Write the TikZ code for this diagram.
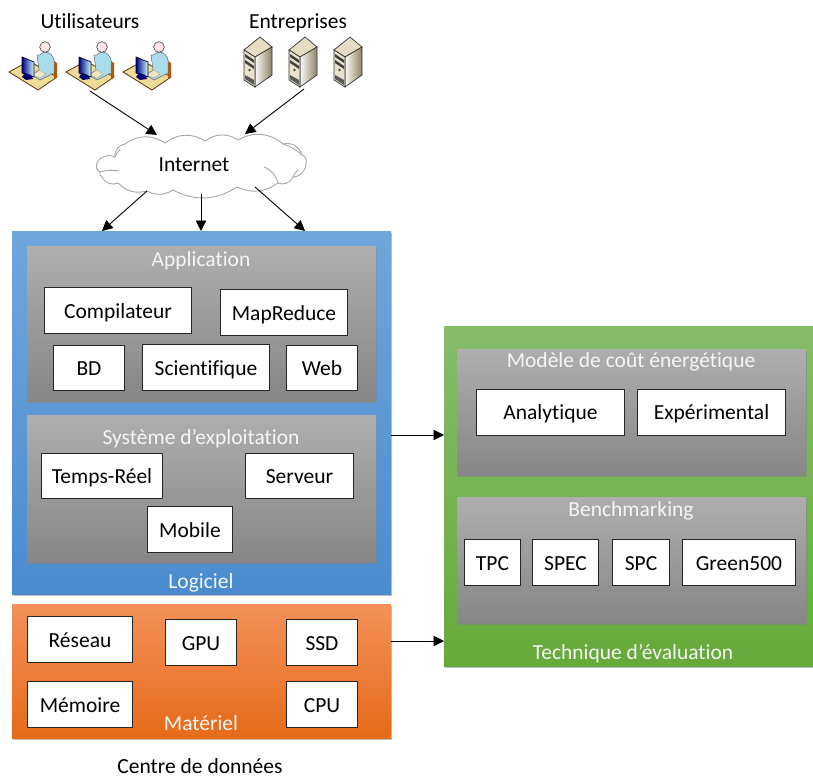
\documentclass[tikz,border=0pt]{standalone}
\usepackage{fontspec}
\setmainfont{Carlito}[Ligatures=NoCommon]
\usetikzlibrary{arrows.meta,shadows}
\definecolor{bluetop}{HTML}{70A6DC}
\definecolor{bluebot}{HTML}{4A8BCF}
\definecolor{greytop}{HTML}{AEAEAE}
\definecolor{greybot}{HTML}{868686}
\definecolor{orangetop}{HTML}{F39159}
\definecolor{orangebot}{HTML}{E56B18}
\definecolor{greentop}{HTML}{86BC6B}
\definecolor{greenbot}{HTML}{65AA3A}
\definecolor{beige}{HTML}{E6DCC3}
\definecolor{beigedark}{HTML}{8F8367}
\definecolor{deskyellow}{HTML}{EFDB98}
\definecolor{deskedge}{HTML}{5A2E0A}
\definecolor{shirtblue}{HTML}{A9DCEB}
\tikzset{
  plainlabel/.style={font=\fontsize{21.5}{26}\selectfont, inner sep=0pt, text height=15.5pt, text depth=0pt},
  titlelabel/.style={plainlabel, text=white!96!black},
  softshadow/.style={drop shadow={opacity=.5, shadow xshift=.8pt, shadow yshift=-2pt}},
  panel/.style={rectangle, inner sep=0pt, softshadow},
  bluepanel/.style={panel, top color=bluetop, bottom color=bluebot},
  greypanel/.style={panel, top color=greytop, bottom color=greybot},
  orangepanel/.style={panel, top color=orangetop, bottom color=orangebot},
  greenpanel/.style={panel, top color=greentop, bottom color=greenbot},
  itembox/.style={plainlabel, draw=black!85, line width=.9pt, fill=white},
  link/.style={-{Triangle[length=10.5pt,width=10.5pt]}, line width=.9pt},
  cloudline/.style={draw=black!35, line width=.9pt, fill=white},
  pics/usericon/.style={code={
    \draw[draw=deskedge, line width=.8pt, fill=deskyellow]
      (-29,6) -- (-9,-5) -- (19,11) -- (0,24) -- cycle;
    \fill[orange!70!black] (16,-5) -- (19,-3) -- (19,11) -- (16,13) -- cycle;
    \fill[shirtblue, draw=black!60, line width=.5pt]
      (-1,-11) to[out=-30,in=180] (7,-14) to[out=0,in=100] (16,-6) -- (16,7)
      -- (2,14) -- (-6,9) -- (1,4) -- cycle;
    \fill[deskyellow!60!white, draw=black!40, line width=.4pt] (-6,9) -- (2,4) -- (8,8) -- (2,12) -- cycle;
    \draw[black!75, line width=.6pt, fill=red!10!white] (7,-19) circle (5.3);
    \draw[black!80!blue, line width=.7pt, left color=blue!50!black, right color=cyan!20!white]
      (-16,-9) -- (-4,-4) -- (-4,11) -- (-16,7) -- cycle;
    \fill[blue!45!black] (-13,7) -- (-7,9) -- (-5,13) -- (-12,14) -- (-16,11) -- cycle;
  }},
  pics/servericon/.style={code={
    \fill[beige, draw=black!80, line width=.7pt] (0,0) -- (12,10) -- (-5,20) -- (-16,13) -- cycle;
    \draw[black!80, line width=.7pt, left color=white!85!beige, right color=beigedark]
      (-5,20) -- (12,10) -- (12,38) -- (-5,50) -- cycle;
    \draw[black!80, line width=.7pt, fill=beige!85!white]
      (-16,13) -- (-5,20) -- (-5,50) -- (-16,43) -- cycle;
    \fill[black!75] (-15,17) -- (-6,23) -- (-6,26) -- (-15,20) -- cycle;
    \fill[black!75] (-15,23) -- (-6,29) -- (-6,32) -- (-15,26) -- cycle;
    \fill[black!70] (-10.5,33) circle (1.4);
    \fill[black!65] (-15,38) -- (-6,43) -- (-6,48) -- (-15,42) -- cycle;
  }}
}
\begin{document}
\begin{tikzpicture}[x=1pt, y=-1pt]
  \useasboundingbox (0,0) rectangle (813,778);

  % clients
  \node[plainlabel] (users) at (90,21) {Utilisateurs};
  \node[plainlabel] (firms) at (298,21) {Entreprises};
  \foreach \x in {38,95,152}
    \pic at (\x,66) {usericon};
  \foreach \x in {260,305,350}
    \pic at (\x,37) {servericon};

  % cloud
  \draw[cloudline] (97,163) to[bend left=45] (115,157) to[bend left=45] (125,144)
    to[bend left=35] (165,143) to[bend left=35] (205,141) to[bend left=35] (238,140)
    to[bend left=35] (283,144) to[bend left=45] (302,155) to[bend left=45] (306,163)
    to[bend left=45] (293,177) to[bend left=45] (278,183) to[bend left=30] (237,187)
    to[bend left=30] (173,190) to[bend left=30] (147,191) to[bend left=30] (118,183)
    to[bend left=45] (102,177) to[bend left=45] (100,172) to[bend left=45] (97,163);
  \draw[cloudline, fill=none] (100,172) to[bend left=12] (119,171);
  \draw[cloudline, fill=none] (115,157) to[bend left=15] (120,150);
  \draw[cloudline, fill=none] (264,167) to[bend left=25] (278,183);
  \draw[cloudline, fill=none] (293,177) to[bend left=15] (298,170);
  \draw[cloudline, fill=none] (283,144) to[bend left=12] (302,155);
  \node[plainlabel] (internet) at (194,164) {Internet};

  % centre de donnees
  \node[bluepanel, minimum width=379pt, minimum height=363pt] (logiciel) at (201.5,412.5) {};
  \node[greypanel, minimum width=349pt, minimum height=155pt] (application) at (201.5,323.5) {};
  \node[greypanel, minimum width=349pt, minimum height=147pt] (systeme) at (201.5,488.5) {};
  \node[orangepanel, minimum width=379pt, minimum height=134pt] (materiel) at (201.5,671) {};
  \node[titlelabel] (logicieltitle) at (201,581) {Logiciel};
  \node[titlelabel] (applicationtitle) at (201,259) {Application};
  \node[titlelabel] (systemetitle) at (201,437) {Système d’exploitation};
  \node[titlelabel] (materieltitle) at (201,723) {Matériel};
  \node[plainlabel] (centre) at (200,765.5) {Centre de données};

  \node[itembox, minimum width=147pt, minimum height=46pt] (compilateur) at (118,310.5) {Compilateur};
  \node[itembox, minimum width=127pt, minimum height=46pt] (mapreduce) at (284,312.5) {MapReduce};
  \node[itembox, minimum width=71pt, minimum height=45pt] (bd) at (89,368) {BD};
  \node[itembox, minimum width=127pt, minimum height=46pt] (scientifique) at (206,367.5) {Scientifique};
  \node[itembox, minimum width=71pt, minimum height=45pt] (web) at (322,368) {Web};
  \node[itembox, minimum width=121pt, minimum height=45pt] (tempsreel) at (102,476) {Temps-Réel};
  \node[itembox, minimum width=108pt, minimum height=45pt] (serveur) at (299.5,476) {Serveur};
  \node[itembox, minimum width=85pt, minimum height=46pt] (mobile) at (190,529.5) {Mobile};

  \node[itembox, minimum width=105pt, minimum height=46pt] (reseau) at (80,639.5) {Réseau};
  \node[itembox, minimum width=71pt, minimum height=46pt] (gpu) at (201,642.5) {GPU};
  \node[itembox, minimum width=71pt, minimum height=46pt] (ssd) at (322,642.5) {SSD};
  \node[itembox, minimum width=105pt, minimum height=46pt] (memoire) at (80,704.5) {Mémoire};
  \node[itembox, minimum width=71pt, minimum height=46pt] (cpu) at (322,704.5) {CPU};

  % evaluation
  \node[greenpanel, minimum width=369pt, minimum height=340pt] (evaluation) at (628.5,496) {};
  \node[greypanel, minimum width=349pt, minimum height=126pt] (modele) at (631.5,412) {};
  \node[greypanel, minimum width=349pt, minimum height=126pt] (benchmarking) at (631.5,560) {};
  \node[titlelabel] (modeletitle) at (631,360) {Modèle de coût énergétique};
  \node[titlelabel] (benchmarkingtitle) at (631,509) {Benchmarking};
  \node[titlelabel] (evaluationtitle) at (633,652) {Technique d’évaluation};

  \node[itembox, minimum width=148pt, minimum height=46pt] (analytique) at (550.5,412) {Analytique};
  \node[itembox, minimum width=148pt, minimum height=46pt] (experimental) at (711.5,412) {Expérimental};
  \node[itembox, minimum width=56pt, minimum height=46pt] (tpc) at (492.5,562.5) {TPC};
  \node[itembox, minimum width=66pt, minimum height=46pt] (spec) at (565.5,562.5) {SPEC};
  \node[itembox, minimum width=57pt, minimum height=46pt] (spc) at (641,562.5) {SPC};
  \node[itembox, minimum width=113pt, minimum height=46pt] (greenbench) at (739,562.5) {Green500};

  % connectors
  \coordinate (usersout) at (90,91);
  \coordinate (firmsout) at (304,89);
  \coordinate (cloudinleft) at (157,135);
  \coordinate (cloudinright) at (245,134);
  \coordinate (cloudoutleft) at (147,191);
  \coordinate (cloudoutmid) at (201,194);
  \coordinate (cloudoutright) at (255,187);
  \coordinate (softleft) at (102,231);
  \coordinate (softmid) at (201,231);
  \coordinate (softright) at (305,231);
  \coordinate (softout) at (391,435);
  \coordinate (softeval) at (444,435);
  \coordinate (hardout) at (391,641);
  \coordinate (hardeval) at (444,641);
  \draw[link] (usersout) to (cloudinleft);
  \draw[link] (firmsout) to (cloudinright);
  \draw[link] (cloudoutleft) to (softleft);
  \draw[link] (cloudoutmid) to (softmid);
  \draw[link] (cloudoutright) to (softright);
  \draw[link] (softout) to (softeval);
  \draw[link] (hardout) to (hardeval);
\end{tikzpicture}
\end{document}
